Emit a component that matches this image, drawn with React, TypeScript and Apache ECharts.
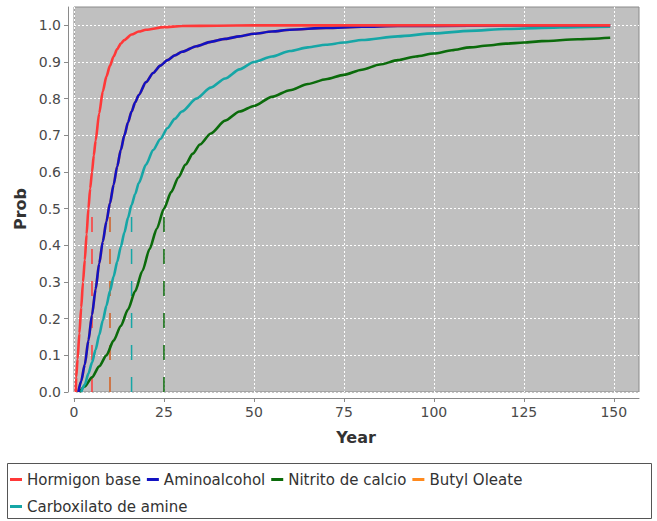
import React, { useEffect, useRef } from "react";
import * as echarts from "echarts";

// ---------- data ----------
const seriesNames = [
  "Hormigon base",
  "Aminoalcohol",
  "Nitrito de calcio",
  "Butyl Oleate",
  "Carboxilato de amine",
];
const seriesColors = ["#ff3838", "#1212c2", "#0b6b0b", "#ff8a1e", "#16a6a6"];

const hormigonX = [0.5, 0.6, 1, 1.5, 2, 2.5, 3, 3.5, 4, 4.5, 5, 5.5, 6, 7, 8, 9, 10, 11, 12, 13, 14, 16, 18, 20, 25, 30, 40, 50, 100, 149];
const hormigonY = [0, 0.04, 0.09, 0.16, 0.23, 0.3, 0.36, 0.43, 0.5, 0.555, 0.6, 0.645, 0.685, 0.76, 0.82, 0.86, 0.89, 0.915, 0.935, 0.95, 0.96, 0.975, 0.983, 0.988, 0.995, 0.998, 0.999, 1.0, 1.0, 1.0];

const aminoX = [1.2, 2, 3, 4, 5, 6, 7, 8, 9, 10, 11, 12, 13, 14, 15, 16, 17, 18, 20, 22, 24, 26, 28, 30, 34, 38, 42, 46, 50, 55, 60, 70, 80, 90, 110, 130, 149];
const aminoY = [0, 0.03, 0.075, 0.14, 0.21, 0.28, 0.35, 0.41, 0.465, 0.515, 0.565, 0.615, 0.66, 0.7, 0.735, 0.765, 0.79, 0.81, 0.845, 0.87, 0.89, 0.905, 0.918, 0.928, 0.943, 0.955, 0.963, 0.97, 0.977, 0.983, 0.988, 0.993, 0.996, 0.998, 0.999, 1.0, 1.0];

const nitritoX = [1.5, 3, 5, 7, 9, 11, 13, 15, 17, 19, 21, 23, 25, 27, 29, 31, 33, 35, 38, 42, 46, 50, 55, 60, 65, 70, 75, 80, 85, 90, 95, 100, 105, 110, 115, 120, 125, 130, 140, 149];
const nitritoY = [0, 0.015, 0.04, 0.07, 0.1, 0.14, 0.18, 0.225, 0.275, 0.33, 0.39, 0.445, 0.5, 0.545, 0.585, 0.62, 0.65, 0.675, 0.705, 0.74, 0.765, 0.78, 0.805, 0.823, 0.84, 0.853, 0.865, 0.879, 0.893, 0.905, 0.915, 0.923, 0.932, 0.94, 0.945, 0.95, 0.953, 0.957, 0.962, 0.966];

// Butyl Oleate is not visible: it lies under the Aminoalcohol curve
const butylX = aminoX;
const butylY = aminoY;

const carboxX = [2, 3, 4, 5, 6, 7, 8, 9, 10, 11, 12, 13, 14, 15, 16, 17, 18, 20, 22, 24, 26, 28, 30, 34, 38, 42, 46, 50, 55, 60, 65, 70, 75, 80, 90, 100, 110, 120, 130, 140, 149];
const carboxY = [0, 0.02, 0.05, 0.08, 0.115, 0.155, 0.195, 0.235, 0.275, 0.315, 0.355, 0.395, 0.435, 0.475, 0.51, 0.54, 0.57, 0.62, 0.66, 0.69, 0.72, 0.745, 0.765, 0.8, 0.83, 0.855, 0.88, 0.9, 0.915, 0.93, 0.94, 0.947, 0.953, 0.96, 0.97, 0.978, 0.985, 0.99, 0.993, 0.995, 0.996];

// mean year of each series (dashed markers), in seriesNames order
const meanYears = [5, 10, 25, 10, 16];
const markerProb = [0, 0.5];

const xTicks = [0, 25, 50, 75, 100, 125, 150];
const yTicks = [0, 0.1, 0.2, 0.3, 0.4, 0.5, 0.6, 0.7, 0.8, 0.9, 1.0];
const xTitle = "Year";
const yTitle = "Prob";

const curvesX = [hormigonX, aminoX, nitritoX, butylX, carboxX];
const curvesY = [hormigonY, aminoY, nitritoY, butylY, carboxY];

// draw order (later on top)
const drawOrder = [3, 2, 4, 1, 0];
const markerOrder = [1, 2, 4, 3, 0];

const FONT = "DejaVu Sans";

function zip(xs: number[], ys: number[]) {
  return xs.map((x, i) => [x, ys[i]]);
}

export default function App() {
  const ref = useRef<HTMLDivElement>(null);

  useEffect(() => {
    document.body.style.margin = "0";
    const chart = echarts.init(ref.current!, null, { renderer: "svg" });

    const markerSeries = markerOrder.map((i) => ({
      name: seriesNames[i] + " mean",
      type: "line",
      data: markerProb.map((p) => [meanYears[i], p]),
      showSymbol: false,
      lineStyle: { color: seriesColors[i], width: 1.5, type: [15, 17] },
      z: 2,
      silent: true,
    }));

    const curveSeries = drawOrder.map((i) => ({
      name: seriesNames[i],
      type: "line",
      data: zip(curvesX[i], curvesY[i]),
      showSymbol: false,
      smooth: 0.25,
      smoothMonotone: "x",
      color: seriesColors[i],
      lineStyle: { color: seriesColors[i], width: 2.6 },
      z: 3,
    }));

    const legendCommon = {
      icon: "rect",
      itemWidth: 12,
      itemHeight: 3,
      itemGap: 6,
      orient: "horizontal",
      padding: 0,
      textStyle: { fontFamily: FONT, fontSize: 15, color: "#333" },
      selectedMode: false,
    };

    const option = {
      animation: false,
      backgroundColor: "#ffffff",
      textStyle: { fontFamily: FONT },
      grid: {
        left: 74,
        right: 18,
        top: 7,
        bottom: 129,
        show: true,
        backgroundColor: "#c0c0c0",
        borderColor: "#8a8a8a",
        borderWidth: 1,
      },
      xAxis: {
        type: "value",
        min: 0,
        max: 157,
        interval: 25,
        offset: 6,
        axisLine: { show: true, onZero: false, lineStyle: { color: "#8a8a8a", width: 1 } },
        axisTick: { show: true, length: 4, lineStyle: { color: "#8a8a8a" }, customValues: xTicks },
        axisLabel: {
          color: "#4a4a4a",
          fontSize: 14,
          fontFamily: FONT,
          margin: 7,
          customValues: xTicks,
          formatter: (v: number) => String(v),
        },
        splitLine: { show: true, lineStyle: { color: "#ffffff", type: [2, 2], width: 1 } },
      },
      yAxis: {
        type: "value",
        min: 0,
        max: 1.05,
        interval: 0.1,
        offset: 6,
        axisLine: { show: true, onZero: false, lineStyle: { color: "#8a8a8a", width: 1 } },
        axisTick: { show: true, length: 4, lineStyle: { color: "#8a8a8a" }, customValues: yTicks },
        axisLabel: {
          color: "#4a4a4a",
          fontSize: 14,
          fontFamily: FONT,
          margin: 7,
          customValues: yTicks,
          formatter: (v: number) => v.toFixed(1),
        },
        splitLine: { show: true, lineStyle: { color: "#ffffff", type: [2, 2], width: 1 } },
      },
      legend: [
        { ...legendCommon, left: 10, top: 472, data: seriesNames.slice(0, 4) },
        { ...legendCommon, left: 10, top: 499, data: seriesNames.slice(4) },
      ],
      graphic: [
        {
          type: "rect",
          left: 7,
          top: 463,
          shape: { width: 644, height: 55 },
          style: { fill: "#ffffff", stroke: "#555555", lineWidth: 1 },
          z: -1,
          silent: true,
        },
        {
          type: "text",
          x: 20,
          y: 209,
          rotation: Math.PI / 2,
          style: {
            text: yTitle,
            fontFamily: FONT,
            fontSize: 16,
            fontWeight: "bold",
            fill: "#333",
            align: "center",
            verticalAlign: "middle",
          },
        },
        {
          type: "text",
          x: 356,
          y: 437,
          style: {
            text: xTitle,
            fontFamily: FONT,
            fontSize: 16,
            fontWeight: "bold",
            fill: "#333",
            align: "center",
            verticalAlign: "middle",
          },
        },
      ],
      series: [...markerSeries, ...curveSeries],
    };

    chart.setOption(option as any);
    return () => chart.dispose();
  }, []);

  return <div ref={ref} style={{ width: 657, height: 521 }} />;
}
